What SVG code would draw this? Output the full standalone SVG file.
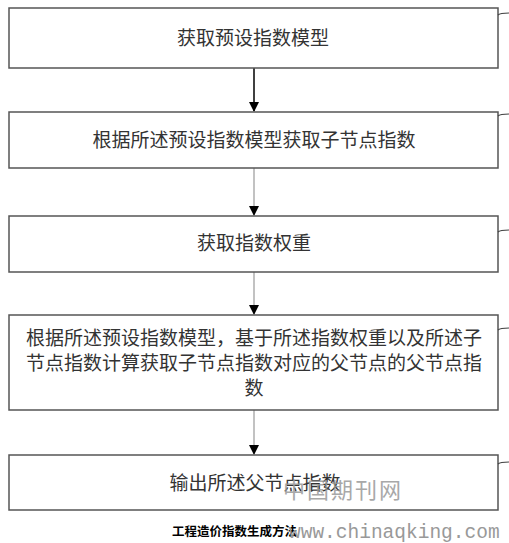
<svg xmlns="http://www.w3.org/2000/svg" width="509" height="543" viewBox="0 0 509 543">
<style>
.box{fill:#fff;stroke:#555;stroke-width:1.5}
.t{font-family:"Noto Sans CJK SC",sans-serif;font-size:19px;fill:#333;text-anchor:middle}
.tick{fill:none;stroke:#444;stroke-width:1.2}
.ln{stroke:#999;stroke-width:1.2}
.wm{fill:#999;font-family:"Noto Sans CJK SC",sans-serif}
</style>
<defs>
<marker id="ah" markerWidth="10" markerHeight="10" refX="9" refY="5" orient="auto" markerUnits="userSpaceOnUse">
<path d="M0,0 L10,5 L0,10 Z" fill="#000"/>
</marker>
</defs>
<rect width="509" height="543" fill="#fff"/>
<g id="connectors">
<line x1="254" y1="68" x2="254" y2="111" stroke="#000" stroke-width="1.5" marker-end="url(#ah)"/>
<line class="ln" x1="254" y1="168" x2="254" y2="215" marker-end="url(#ah)"/>
<line class="ln" x1="254" y1="272" x2="254" y2="314" marker-end="url(#ah)"/>
<line class="ln" x1="254" y1="410" x2="254" y2="454" marker-end="url(#ah)"/>
</g>
<g id="n1">
<rect class="box" x="9" y="8" width="489" height="60"/>
<path class="tick" d="M498,15 Q500,13 509,13"/>
<text class="t" x="253" y="45">获取预设指数模型</text>
</g>
<g id="n2">
<rect class="box" x="9" y="112" width="489" height="56"/>
<path class="tick" d="M498,116 Q500,114 509,114"/>
<text class="t" x="254" y="147">根据所述预设指数模型获取子节点指数</text>
</g>
<g id="n3">
<rect class="box" x="9" y="216" width="489" height="56"/>
<path class="tick" d="M498,232 Q500,230 509,230"/>
<text class="t" x="254" y="250">获取指数权重</text>
</g>
<g id="n4">
<rect class="box" x="9" y="315" width="489" height="95"/>
<path class="tick" d="M498,330 Q500,328 509,328"/>
<text class="t" x="254" y="345">根据所述预设指数模型，基于所述指数权重以及所述子</text>
<text class="t" x="254" y="370">节点指数计算获取子节点指数对应的父节点的父节点指</text>
<text class="t" x="254" y="395">数</text>
</g>
<g id="n5">
<rect class="box" x="9" y="455" width="489" height="55"/>
<path class="tick" d="M498,464 Q500,462 509,462"/>
<text class="t" x="255" y="490">输出所述父节点指数</text>
</g>
<text x="172" y="536" font-family="Noto Sans CJK SC,sans-serif" font-size="12.5" font-weight="bold" fill="#000">工程造价指数生成方法</text>
<text class="wm" x="283" y="498" font-size="22" letter-spacing="2" opacity="0.85">中国期刊网</text>
<text x="289" y="538" font-size="19.5" fill="#999" style="font-family:'Liberation Mono',monospace">www.chinaqking.com</text>
</svg>
